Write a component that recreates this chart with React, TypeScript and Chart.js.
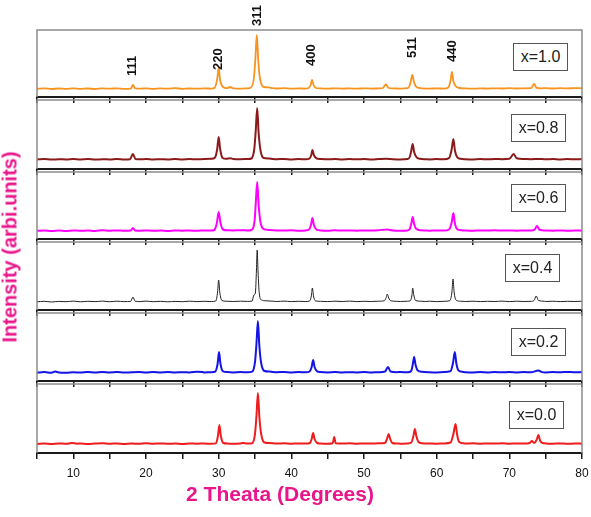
import React, { useEffect, useRef } from "react";
import { Chart, registerables } from "chart.js";

Chart.register(...registerables);

type Pt = [number, number];

// ---- data (2θ in degrees, intensity in arbitrary units) ----
const sampleLabels = ["x=1.0", "x=0.8", "x=0.6", "x=0.4", "x=0.2", "x=0.0"];
const sampleColors = ["#F7931E", "#8B1A1A", "#FF00FF", "#222222", "#1414E6", "#EE1C1C"];
const sampleWidths = [1.8, 2, 2, 1, 2, 2];

const xTicks = [10, 20, 30, 40, 50, 60, 70, 80];

const peakLabelText = ["111", "220", "311", "400", "511", "440"];
const peakLabelTheta = [18.2, 30.0, 35.3, 42.8, 56.7, 62.2];
const peakLabelBase = [21, 27, 71, 31, 39, 35];

const seriesX10: Pt[] = [[5,8.2],[6,8.6],[7,8.0],[8,8.5],[9,8.1],[10,8.7],[11,8.2],[12,8.5],[13,8.0],[14,8.6],[15,8.3],[16,8.7],[17,8.2],[17.9,8.4],[18.2,12],[18.5,8.6],[19.2,8.3],[20,8.7],[21,8.1],[22,8.6],[23,8.3],[24,8.8],[25,8.2],[26,8.5],[27,8.3],[28,8.6],[29,8.4],[29.4,8.8],[29.8,18],[30.0,29],[30.2,17],[30.6,10],[31.1,8.8],[31.6,10],[32.0,8.7],[33,8.4],[34,8.7],[34.4,9.2],[34.85,19],[35.05,38],[35.25,62],[35.45,36],[35.7,18],[36.2,10],[36.9,9.6],[37.4,8.8],[38,8.5],[39,8.8],[40,8.3],[41,8.6],[42,8.4],[42.4,9],[42.65,12],[42.85,17],[43.05,12],[43.4,9],[44,8.6],[45,8.3],[46,8.7],[47,8.4],[48,8.6],[49,8.3],[50,8.7],[51,8.4],[52,8.6],[52.6,9],[53.0,12.5],[53.4,9],[54,8.6],[55,8.4],[56,8.8],[56.25,11],[56.45,16],[56.65,22],[56.85,16],[57.1,11],[57.6,9],[58,8.7],[59,8.4],[60,8.6],[61,8.4],[61.6,9.5],[61.9,16],[62.1,25],[62.3,16],[62.6,11],[63.1,9],[64,8.6],[65,8.3],[66,8.6],[67,8.4],[68,8.7],[69,8.5],[70,8.8],[71,8.5],[72,8.7],[73,8.8],[73.4,13],[73.75,9.2],[74.5,8.7],[75,8.9],[76,8.5],[77,8.8],[78,8.6],[79,8.9],[80,8.7]];

const seriesX08: Pt[] = [[5,9.6],[6,9.9],[7,9.4],[8,9.8],[9,9.5],[10,10],[11,9.6],[12,9.9],[13,9.4],[14,9.8],[15,9.6],[16,10],[17,9.5],[17.8,9.8],[18.2,15],[18.55,10],[19.2,9.7],[20,9.9],[21,9.5],[22,9.8],[23,9.6],[24,10],[25,9.6],[26,9.9],[27,9.7],[28,10],[29,10.2],[29.5,11.5],[29.8,20],[30.0,32],[30.2,20],[30.55,11],[31,10.2],[31.6,10.8],[32,10],[33,9.8],[34,10],[34.5,10.5],[34.9,20],[35.1,38],[35.3,61],[35.5,36],[35.75,19],[36.2,11],[36.9,10.6],[37.5,10],[38,9.8],[39,10],[40,9.6],[41,9.9],[42,9.7],[42.5,10.5],[42.75,14],[42.9,19],[43.1,14],[43.5,10.5],[44,10],[45,9.7],[46,10],[47,9.6],[48,9.9],[49,9.7],[50,10],[51,9.6],[52,9.9],[53,10.2],[54,9.8],[55,9.6],[56,10],[56.3,12],[56.5,18],[56.7,25],[56.9,17],[57.2,12],[57.7,10.2],[58.5,9.8],[59,9.6],[60,9.9],[61,9.7],[61.7,10.8],[62.05,19],[62.3,30],[62.5,19],[62.8,12],[63.3,10.2],[64,9.8],[65,9.6],[66,9.9],[67,9.7],[68,10],[69,9.8],[70,10.2],[70.6,15],[71.0,10.8],[72,10],[73,9.8],[74,10.1],[75,9.7],[76,10],[77,9.6],[78,9.9],[79,9.7],[80,9.9]];

const seriesX06: Pt[] = [[5,8.2],[6,8.6],[7,8.1],[8,8.5],[9,8.0],[10,8.6],[11,8.2],[12,8.5],[13,8.1],[14,8.7],[15,8.3],[16,8.6],[17,8.2],[17.9,8.5],[18.2,11],[18.5,8.5],[19.2,8.3],[20,8.6],[21,8.2],[22,8.5],[23,8.1],[24,8.6],[25,8.3],[26,8.5],[27,8.2],[28,8.6],[29,8.5],[29.4,9],[29.75,16],[30.0,27],[30.25,16],[30.6,9.5],[31.2,8.7],[32,8.5],[33,8.8],[34,8.5],[34.5,9],[34.95,19],[35.1,35],[35.3,57],[35.5,34],[35.75,17],[36.2,9.8],[37,9],[38,8.6],[39,8.4],[40,8.7],[41,8.3],[42,8.6],[42.45,9.5],[42.7,14],[42.9,21],[43.1,14],[43.45,9.5],[44,8.6],[45,8.3],[46,8.7],[47,8.4],[48,8.6],[49,8.3],[50,8.6],[51,8.4],[52,8.7],[53.2,9.6],[54,8.5],[55,8.3],[56,8.6],[56.3,10],[56.5,15],[56.7,22],[56.9,15],[57.2,10],[57.8,8.8],[58.5,8.5],[59,8.3],[60,8.6],[61,8.4],[61.7,9.5],[62.05,16],[62.3,26],[62.5,16],[62.8,10],[63.4,8.8],[64,8.5],[65,8.3],[66,8.6],[67,8.4],[68,8.7],[69,8.4],[70,8.6],[71,8.3],[72,8.6],[73,8.5],[73.5,9.5],[73.8,13],[74.15,9.2],[75,8.5],[76,8.3],[77,8.6],[78,8.2],[79,8.5],[80,8.3]];

const seriesX04: Pt[] = [[5,8.2],[6,8.7],[7,8.0],[8,8.6],[9,8.3],[10,8.9],[11,8.2],[12,8.7],[13,8.4],[14,8.9],[15,8.3],[16,8.8],[17,8.4],[17.9,8.7],[18.2,13],[18.5,8.8],[19.2,8.4],[20,8.9],[21,8.3],[22,8.7],[23,8.2],[24,8.6],[25,8.3],[26,8.8],[27,8.4],[28,8.7],[29,8.5],[29.6,9],[29.85,18],[30.0,30],[30.15,18],[30.45,9.5],[31,8.8],[32,8.5],[33,8.8],[34,8.6],[34.6,9],[34.85,15],[35.05,17],[35.2,40],[35.3,60],[35.42,38],[35.6,16],[35.9,10],[36.5,9.2],[37.5,8.8],[38,8.5],[39,8.9],[40,8.4],[41,8.7],[42,8.5],[42.55,9.2],[42.75,14],[42.9,22],[43.05,14],[43.3,9.2],[44,8.7],[45,8.4],[46,8.8],[47,8.5],[48,8.9],[49,8.4],[50,8.7],[51,8.5],[52,8.8],[52.8,9.2],[53.05,12.5],[53.2,16],[53.4,12],[53.7,9.2],[54.5,8.7],[55,8.5],[56,8.8],[56.4,9.5],[56.6,15],[56.7,22],[56.85,15],[57.1,9.5],[57.8,8.8],[58.5,8.5],[59,8.8],[60,8.4],[61,8.7],[61.8,9.3],[62.1,18],[62.25,31],[62.4,18],[62.7,9.6],[63.3,8.8],[64,8.5],[65,8.8],[66,8.4],[67,8.7],[68,8.5],[69,8.9],[70,8.4],[71,8.8],[72,8.5],[73,8.7],[73.4,9.5],[73.7,14],[74.0,9.5],[74.8,8.8],[75,8.5],[76,8.8],[77,8.4],[78,8.7],[79,8.5],[80,8.8]];

const seriesX02: Pt[] = [[5,8.4],[6,8.9],[7,8.3],[7.5,9.5],[8,8.6],[9,8.3],[10,8.8],[11,8.4],[12,8.9],[13,8.5],[14,9.1],[15,8.6],[16,8.9],[17,8.4],[18,8.7],[19,8.9],[20,8.5],[21,9.1],[22,8.6],[23,8.9],[24,8.5],[25,8.8],[26,8.6],[27,9.2],[27.8,9.0],[28,8.6],[29,8.8],[29.5,9.2],[29.85,17],[30.05,29],[30.25,17],[30.6,9.6],[31.2,8.9],[32,8.6],[33,8.9],[34,8.7],[34.6,9.3],[35.0,19],[35.2,37],[35.4,60],[35.6,35],[35.85,18],[36.3,10],[37,9.4],[38,8.8],[39,9.0],[40,8.6],[41,8.9],[42,8.7],[42.5,9.5],[42.8,14],[43.0,21],[43.2,14],[43.55,9.6],[44,8.9],[45,8.6],[46,8.9],[47,8.5],[48,8.8],[49,8.6],[50,8.9],[51,8.5],[52,8.8],[52.9,9.5],[53.3,14],[53.65,9.5],[54.5,8.8],[55,9.0],[56,8.7],[56.5,10],[56.7,16],[56.9,24],[57.1,16],[57.4,10.5],[58,9.2],[59,8.8],[60,8.6],[61,8.9],[61.9,9.8],[62.25,18],[62.5,29],[62.7,18],[63.0,10.5],[63.6,9.1],[64,8.8],[65,8.6],[66,8.9],[67,8.6],[68,9.0],[69,8.7],[70,8.9],[71,8.6],[72,8.9],[73,8.7],[74,10.5],[74.5,8.9],[75,8.6],[76,8.9],[77,8.7],[78,9.1],[79,8.7],[80,8.9]];

const seriesX00: Pt[] = [[5,9.1],[6,9.5],[7,9.0],[8,9.6],[9,9.2],[9.8,10],[10.5,9.3],[11,9.6],[12,9.1],[13,9.5],[14,9.8],[15,9.2],[16,9.6],[17,9.1],[18,9.5],[19,9.2],[20,9.8],[21,9.3],[22,9.6],[23,9.2],[24,9.5],[25,9.1],[26,9.6],[27,9.3],[28,9.5],[29,9.2],[29.6,9.6],[29.9,17],[30.1,28],[30.3,17],[30.65,10],[31.2,9.4],[32,9.2],[33,9.6],[33.3,10],[34,9.4],[34.6,9.8],[35.0,19],[35.2,37],[35.4,60],[35.6,36],[35.85,19],[36.3,10.5],[37,10],[38,9.5],[39,9.7],[40,9.3],[41,9.6],[42,9.4],[42.55,10],[42.8,14],[43.0,20],[43.2,14],[43.55,10],[44,9.5],[45,9.3],[45.7,9.8],[45.9,16],[46.1,9.8],[47,9.4],[48,9.7],[49,9.3],[50,9.6],[51,9.4],[52,9.7],[52.9,10],[53.2,15],[53.4,19],[53.6,14],[53.9,10],[54.5,9.5],[55,9.3],[56,9.6],[56.5,10.5],[56.8,17],[57.0,24],[57.2,17],[57.5,11],[58,9.8],[59,9.5],[60,9.3],[61,9.6],[61.9,10.5],[62.3,19],[62.6,29],[62.8,19],[63.1,11],[63.7,9.7],[64,9.4],[65,9.7],[66,9.3],[67,9.6],[68,9.4],[69,9.7],[70,9.3],[71,9.6],[72,9.4],[72.8,10],[73.1,12],[73.4,10],[73.75,13],[74.0,18],[74.25,12],[74.6,10],[75,9.6],[76,9.3],[77,9.6],[78,9.2],[79,9.5],[80,9.3]];

const allSeries: Pt[][] = [seriesX10, seriesX08, seriesX06, seriesX04, seriesX02, seriesX00];

// ---- layout ----
const W = 591;
const PLOT_LEFT = 37;
const PLOT_RIGHT = 582;
const panelTops = [30, 100, 172, 242, 313, 384];
const panelHeights = [67, 69, 67, 68, 68, 69];
const legendBoxes = [
  { left: 513, top: 43 },
  { left: 511, top: 114 },
  { left: 511, top: 184 },
  { left: 505, top: 254 },
  { left: 511, top: 328 },
  { left: 509, top: 401 },
];
const TICK_LEN = 6;
const TICK_PAD = 7;
const BOTTOM_AXIS_H = 30;
const FONT = '"Liberation Sans", Arial, Helvetica, sans-serif';
const TITLE_COLOR = "#E8168A";

const framePlugin = {
  id: "panelFrame",
  afterDraw(chart: any) {
    const { ctx, chartArea } = chart;
    const { left, right, top, bottom } = chartArea;
    ctx.save();
    ctx.strokeStyle = "#8c8c8c";
    ctx.lineWidth = 1.5;
    ctx.beginPath();
    ctx.moveTo(left, bottom);
    ctx.lineTo(left, top);
    ctx.lineTo(right, top);
    ctx.lineTo(right, bottom);
    ctx.stroke();
    ctx.restore();
  },
};

const peakLabelPlugin = {
  id: "peakLabels",
  afterDraw(chart: any) {
    const { ctx } = chart;
    const xs = chart.scales.x;
    const ys = chart.scales.y;
    ctx.save();
    ctx.fillStyle = "#111";
    ctx.font = `bold 13px ${FONT}`;
    ctx.textAlign = "left";
    ctx.textBaseline = "middle";
    peakLabelText.forEach((t, i) => {
      const px = xs.getPixelForValue(peakLabelTheta[i]);
      const py = ys.getPixelForValue(peakLabelBase[i]);
      ctx.save();
      ctx.translate(px, py);
      ctx.rotate(-Math.PI / 2);
      ctx.fillText(t, 0, 0);
      ctx.restore();
    });
    ctx.restore();
  },
};

function Panel({ index }: { index: number }) {
  const ref = useRef<HTMLCanvasElement | null>(null);
  const isTop = index === 0;
  const isBottom = index === allSeries.length - 1;
  const padTop = isTop ? 30 : 2;
  const axisH = isBottom ? BOTTOM_AXIS_H : TICK_LEN;
  const h = panelHeights[index];
  const canvasH = padTop + h + axisH;
  const canvasTop = panelTops[index] - padTop;

  useEffect(() => {
    if (!ref.current) return;
    const data = allSeries[index].map(([x, y]) => ({ x, y }));
    const chart = new Chart(ref.current, {
      type: "line",
      data: {
        datasets: [
          {
            label: sampleLabels[index],
            data,
            borderColor: sampleColors[index],
            borderWidth: sampleWidths[index],
            pointRadius: 0,
            fill: false,
            cubicInterpolationMode: "monotone",
          },
        ],
      },
      options: {
        animation: false,
        responsive: false,
        devicePixelRatio: 1,
        events: [],
        layout: {
          padding: { left: PLOT_LEFT, right: W - PLOT_RIGHT, top: padTop, bottom: 0 },
        },
        plugins: {
          legend: { display: false },
          tooltip: { enabled: false },
          title: { display: false },
        },
        scales: {
          x: {
            type: "linear",
            min: 5,
            max: 80,
            position: "bottom",
            border: { display: true, color: "#1a1a1a", width: 2 },
            grid: {
              drawOnChartArea: false,
              drawTicks: true,
              tickLength: TICK_LEN,
              color: "#1a1a1a",
              lineWidth: 1.5,
            },
            ticks: {
              display: isBottom,
              stepSize: 5,
              autoSkip: false,
              maxRotation: 0,
              padding: TICK_PAD,
              color: "#111",
              font: { family: FONT, size: 12 },
              callback: (v: any) => (xTicks.includes(Number(v)) ? String(v) : ""),
            },
            afterFit: (scale: any) => {
              scale.height = axisH;
              scale.paddingLeft = 0;
              scale.paddingRight = 0;
            },
          },
          y: {
            type: "linear",
            display: false,
            min: 0,
            max: h,
          },
        },
      },
      plugins: isTop ? [framePlugin, peakLabelPlugin] : [framePlugin],
    } as any);
    return () => chart.destroy();
  }, [index]);

  return (
    <div style={{ position: "absolute", left: 0, top: canvasTop, width: W, height: canvasH }}>
      <canvas ref={ref} width={W} height={canvasH} style={{ display: "block", width: W, height: canvasH }} />
    </div>
  );
}

export default function App() {
  return (
    <div
      style={{
        position: "absolute",
        left: 0,
        top: 0,
        width: W,
        height: 517,
        background: "#fff",
        overflow: "hidden",
        fontFamily: FONT,
      }}
    >
      {allSeries.map((_, i) => (
        <Panel key={i} index={i} />
      ))}
      {sampleLabels.map((lab, i) => (
        <div
          key={lab}
          style={{
            position: "absolute",
            left: legendBoxes[i].left,
            top: legendBoxes[i].top,
            width: 55,
            height: 28,
            boxSizing: "border-box",
            border: "1px solid #555",
            background: "#fff",
            color: "#222",
            fontSize: 16,
            lineHeight: "26px",
            textAlign: "center",
          }}
        >
          {lab}
        </div>
      ))}
      <div
        style={{
          position: "absolute",
          left: 10,
          top: 247,
          transform: "translate(-50%, -50%) rotate(-90deg)",
          whiteSpace: "nowrap",
          fontWeight: "bold",
          fontSize: 20,
          color: TITLE_COLOR,
        }}
      >
        Intensity (arbi.units)
      </div>
      <div
        style={{
          position: "absolute",
          left: 280,
          top: 494,
          transform: "translate(-50%, -50%)",
          whiteSpace: "nowrap",
          fontWeight: "bold",
          fontSize: 21,
          color: TITLE_COLOR,
        }}
      >
        2 Theata (Degrees)
      </div>
    </div>
  );
}
